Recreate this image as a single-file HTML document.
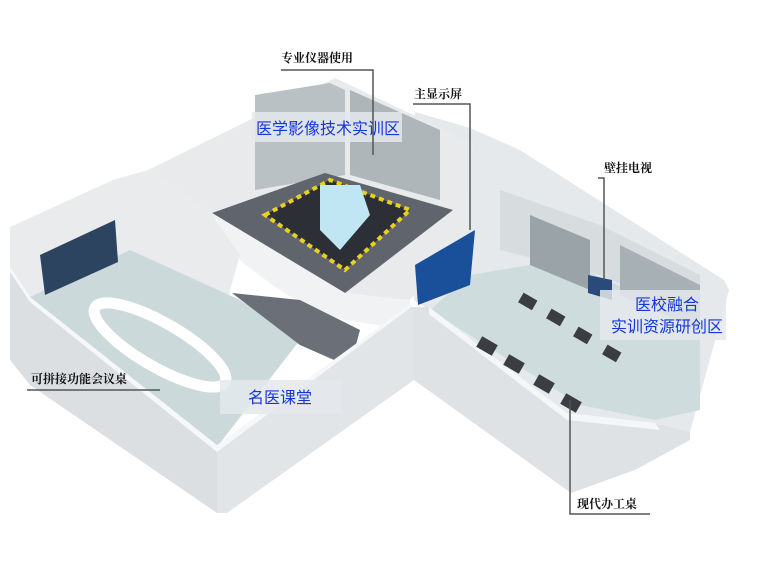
<!DOCTYPE html><html><head><meta charset="utf-8"><style>
html,body{margin:0;padding:0;background:#fff}
svg{display:block}
.l{font-family:"Liberation Sans","Noto Serif CJK SC",serif;font-weight:bold;font-size:12px;fill:#111}
.b{font-family:"Liberation Sans","Noto Sans CJK SC",sans-serif;font-size:16px;fill:#1636d8}
</style></head><body>
<svg width="766" height="566" viewBox="0 0 766 566" xmlns="http://www.w3.org/2000/svg">
<!-- right room -->
<polygon points="415,112 470,128 520,150 724,280 729,290 690,432 655,423 567,413 429,310 414,300" fill="#e6e9eb"/>
<polygon points="430,310 470,275 560,260 700,320 700,410 655,420 580,405" fill="#cfdcdd"/>
<polygon points="500,190 600,225 700,275 700,320 600,275 500,250" fill="#d7dcdf"/>
<polygon points="530,215 590,240 590,290 530,265" fill="#9aa4a8"/>
<polygon points="620,245 700,285 700,330 620,295" fill="#a7b0b4"/>
<!-- right front wall -->
<polygon points="414,307 429,307 567,413 655,423 690,432 690,440 635,470 571,493 414,380" fill="#dfe2e5"/>
<polygon points="429,307 567,413 655,423 660,430 567,420 429,314" fill="#f5f6f7"/>
<!-- middle room -->
<polygon points="148,170 335,78 473,143 470,230 410,300 345,300 240,250 212,215" fill="#e8eaec"/>
<polygon points="255,95 330,83 345,90 345,175 255,190" fill="#b9c1c5"/>
<polygon points="350,90 440,130 440,200 350,175" fill="#aeb6ba"/>
<polygon points="212,213 325,173 453,210 345,293" fill="#60656d"/>
<polygon points="265,215 330,180 410,210 345,270" fill="#2c2f35" stroke="#e8d020" stroke-width="4" stroke-dasharray="5,4"/>
<polygon points="320,185 360,185 370,215 340,250 320,230" fill="#bfe6f2"/>
<path d="M212,213 L345,293 L410,300 L410,330 L345,320 Q300,310 240,260 Z" fill="#f1f2f3"/>
<!-- main screen -->
<polygon points="415,265 475,230 470,285 418,305" fill="#1a4f9a"/>
<!-- tv -->
<polygon points="588,275 612,280 612,300 588,293" fill="#2a4b7a"/>
<!-- left room -->
<polygon points="10,227 113,180 148,170 212,215 240,255 230,290 217,447 30,297 10,270" fill="#e9ebed"/>
<polygon points="30,297 130,250 240,300 300,340 217,447" fill="#cbd9db"/>
<polygon points="232,293 300,300 360,330 350,367 300,345" fill="#6b7078"/>
<polygon points="40,255 115,220 118,262 45,295" fill="#2d4460"/>
<!-- table -->
<ellipse cx="160" cy="345" rx="75" ry="22" transform="rotate(30 160 345)" fill="none" stroke="#fff" stroke-width="11"/>
<!-- left front wall -->
<polygon points="10,270 30,300 217,447 217,513 30,385 10,360" fill="#dcdfe2"/>
<polygon points="217,447 409,307 414,307 414,380 227,513 217,513" fill="#e2e5e8"/>
<polygon points="10,267 30,297 217,445 409,305 414,305 217,452 30,302 10,272" fill="#f6f7f8"/>
<!-- desks -->
<g fill="#3a3d42">
<rect x="478" y="340" width="18" height="12" transform="rotate(30 487 346)"/>
<rect x="505" y="358" width="18" height="12" transform="rotate(30 514 364)"/>
<rect x="535" y="378" width="18" height="12" transform="rotate(30 544 384)"/>
<rect x="562" y="397" width="18" height="12" transform="rotate(30 571 403)"/>
<rect x="520" y="296" width="16" height="11" transform="rotate(30 528 301)"/>
<rect x="548" y="312" width="16" height="11" transform="rotate(30 556 317)"/>
<rect x="575" y="330" width="16" height="11" transform="rotate(30 583 335)"/>
<rect x="604" y="348" width="16" height="11" transform="rotate(30 612 353)"/>
</g>
<!-- blue labels -->
<rect x="252" y="112" width="150" height="30" fill="#e4e9ec" opacity="0.85"/>
<text class="b" x="256" y="134">医学影像技术实训区</text>
<rect x="220" y="380" width="122" height="34" fill="#e4e9ec" opacity="0.85"/>
<text class="b" x="248" y="403">名医课堂</text>
<rect x="600" y="290" width="126" height="50" fill="#e4e9ec" opacity="0.85"/>
<text class="b" x="635" y="310">医校融合</text>
<text class="b" x="611" y="332">实训资源研创区</text>
<!-- callouts -->
<g stroke="#555" stroke-width="1.5" fill="none">
<polyline points="281,70 373,70 373,155"/>
<polyline points="413,104 470,104 470,230"/>
<polyline points="598,178 604,178 604,280"/>
<polyline points="27,390 160,390"/>
<polyline points="570,400 570,514 650,514"/>
</g>
<text class="l" x="281" y="62">专业仪器使用</text>
<text class="l" x="414" y="98">主显示屏</text>
<text class="l" x="604" y="172">壁挂电视</text>
<text class="l" x="31" y="383">可拼接功能会议桌</text>
<text class="l" x="577" y="508">现代办工桌</text>
</svg>
</body></html>
